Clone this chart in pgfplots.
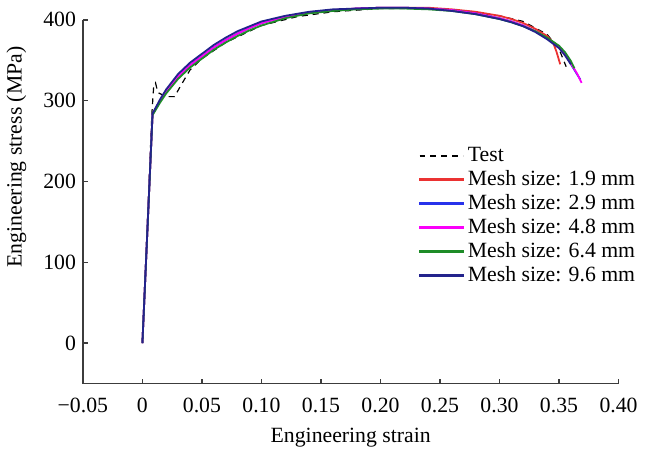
\documentclass[border={0pt 0pt 0pt 3pt}]{standalone}
\usepackage{pgfplots}
\pgfplotsset{compat=1.18}
\usepackage{fontspec}
\setmainfont{Liberation Serif}
\definecolor{cRed}{RGB}{235,50,50}
\definecolor{cBlue}{RGB}{40,50,235}
\definecolor{cMag}{RGB}{250,0,250}
\definecolor{cGreen}{RGB}{30,140,40}
\definecolor{cNavy}{RGB}{35,35,140}
\definecolor{axgray}{RGB}{60,60,60}
\begin{document}
\begin{tikzpicture}[font=\fontsize{11}{13}\selectfont]
\begin{axis}[
  scale only axis,
  width=271pt, height=184pt,
  xmin=-0.05, xmax=0.40, ymin=-50, ymax=400,
  axis x line*=bottom, axis y line*=left,
  axis line style={axgray, line width=0.8pt, -},
  tick style={axgray, line width=0.7pt},
  tick align=inside,
  major tick length=2.5pt,
  xtick={-0.05,0,0.05,0.10,0.15,0.20,0.25,0.30,0.35,0.40},
  xticklabels={−0.05,0,0.05,0.10,0.15,0.20,0.25,0.30,0.35,0.40},
  xticklabel style={yshift=-4pt},
  ytick={0,100,200,300,400},
  yticklabels={0,100,200,300,400},
  xlabel={Engineering strain},
  ylabel={Engineering stress (MPa)},
  ylabel style={at={(rel axis cs:-0.124,0.623)}, anchor=center, rotate=0},
  xlabel style={yshift=-0.5pt},
  clip=false,
  legend style={at={(rel axis cs:0.615,0.672)}, anchor=north west, draw=none, fill=none,
    row sep=-1pt, font=\fontsize{11}{13}\selectfont},
  legend cell align=left,
  legend image code/.code={\fill[#1] (0pt,-0.45pt) rectangle (22pt,0.45pt);},
]
\addplot[black, line width=0.6pt, dash pattern=on 3pt off 2.5pt,
  legend image code/.code={\draw[black, line width=0.6pt, dash pattern=on 3pt off 2.5pt] (0pt,0pt) -- (22pt,0pt);}] coordinates {
(0,0) (0.008,285) (0.0095,318) (0.011,322) (0.013,310) (0.02,305) (0.027,305)
(0.032,318) (0.04,338) (0.05,352) (0.07,372) (0.10,393) (0.13,404) (0.16,410)
(0.20,414) (0.24,414) (0.27,411) (0.30,405) (0.32,398) (0.34,382) (0.35,364) (0.356,342)};
\addlegendentry{Test}
\addplot[color=cRed, line width=0.9pt] coordinates {
(0,0) (0.0085,283) (0.015,300) (0.02,312) (0.03,330) (0.04,344) (0.05,355) (0.06,366)
(0.07,375) (0.08,383) (0.09,390) (0.10,396) (0.12,404) (0.14,409) (0.16,412) (0.18,414)
(0.20,415) (0.22,415) (0.24,415) (0.26,413) (0.28,410) (0.30,405) (0.31,401) (0.32,396)
(0.33,389) (0.34,380) (0.345,372) (0.348,360) (0.351,345)};
\addlegendentry{Mesh size: 1.9 mm}
\addplot[color=cBlue, line width=0.9pt] coordinates {
(0,0) (0.0085,283) (0.015,300) (0.02,312) (0.03,330) (0.04,344) (0.05,355) (0.06,366)
(0.07,375) (0.08,383) (0.09,390) (0.10,396) (0.12,404) (0.14,409) (0.16,412) (0.18,414)
(0.20,415) (0.22,415) (0.24,414) (0.26,412) (0.28,408) (0.30,402) (0.31,398) (0.32,393)
(0.33,386) (0.34,377) (0.35,366) (0.355,358) (0.36,345) (0.365,333) (0.368,326)};
\addlegendentry{Mesh size: 2.9 mm}
\addplot[color=cMag, line width=0.9pt] coordinates {
(0,0) (0.0085,283) (0.015,300) (0.02,312) (0.03,330) (0.04,344) (0.05,355) (0.06,366)
(0.07,375) (0.08,383) (0.09,390) (0.10,396) (0.12,404) (0.14,409) (0.16,412) (0.18,414)
(0.20,415) (0.22,415) (0.24,414) (0.26,412) (0.28,408) (0.30,402) (0.31,398) (0.32,393)
(0.33,386) (0.34,377) (0.35,366) (0.355,358) (0.36,346) (0.365,334) (0.369,322)};
\addlegendentry{Mesh size: 4.8 mm}
\addplot[color=cGreen, line width=0.9pt] coordinates {
(0,0) (0.0085,282) (0.015,298) (0.02,309) (0.03,327) (0.04,341) (0.05,352) (0.06,363)
(0.07,372) (0.08,380) (0.09,387) (0.10,393) (0.12,402) (0.14,408) (0.16,411) (0.18,413)
(0.20,414) (0.22,414) (0.24,413) (0.26,411) (0.28,407) (0.30,401) (0.31,397) (0.32,392)
(0.33,386) (0.34,378) (0.35,368) (0.355,360) (0.36,349) (0.363,340)};
\addlegendentry{Mesh size: 6.4 mm}
\addplot[color=cNavy, line width=0.9pt] coordinates {
(0,0) (0.0085,284) (0.015,302) (0.02,314) (0.03,333) (0.04,347) (0.05,358) (0.06,369)
(0.07,378) (0.08,386) (0.09,392) (0.10,398) (0.12,405) (0.14,410) (0.16,413) (0.18,414)
(0.20,415) (0.22,415) (0.24,414) (0.26,411) (0.28,407) (0.30,401) (0.31,397) (0.32,392)
(0.33,385) (0.34,376) (0.35,365) (0.355,356) (0.36,345)};
\addlegendentry{Mesh size: 9.6 mm}
\end{axis}
\end{tikzpicture}
\end{document}
